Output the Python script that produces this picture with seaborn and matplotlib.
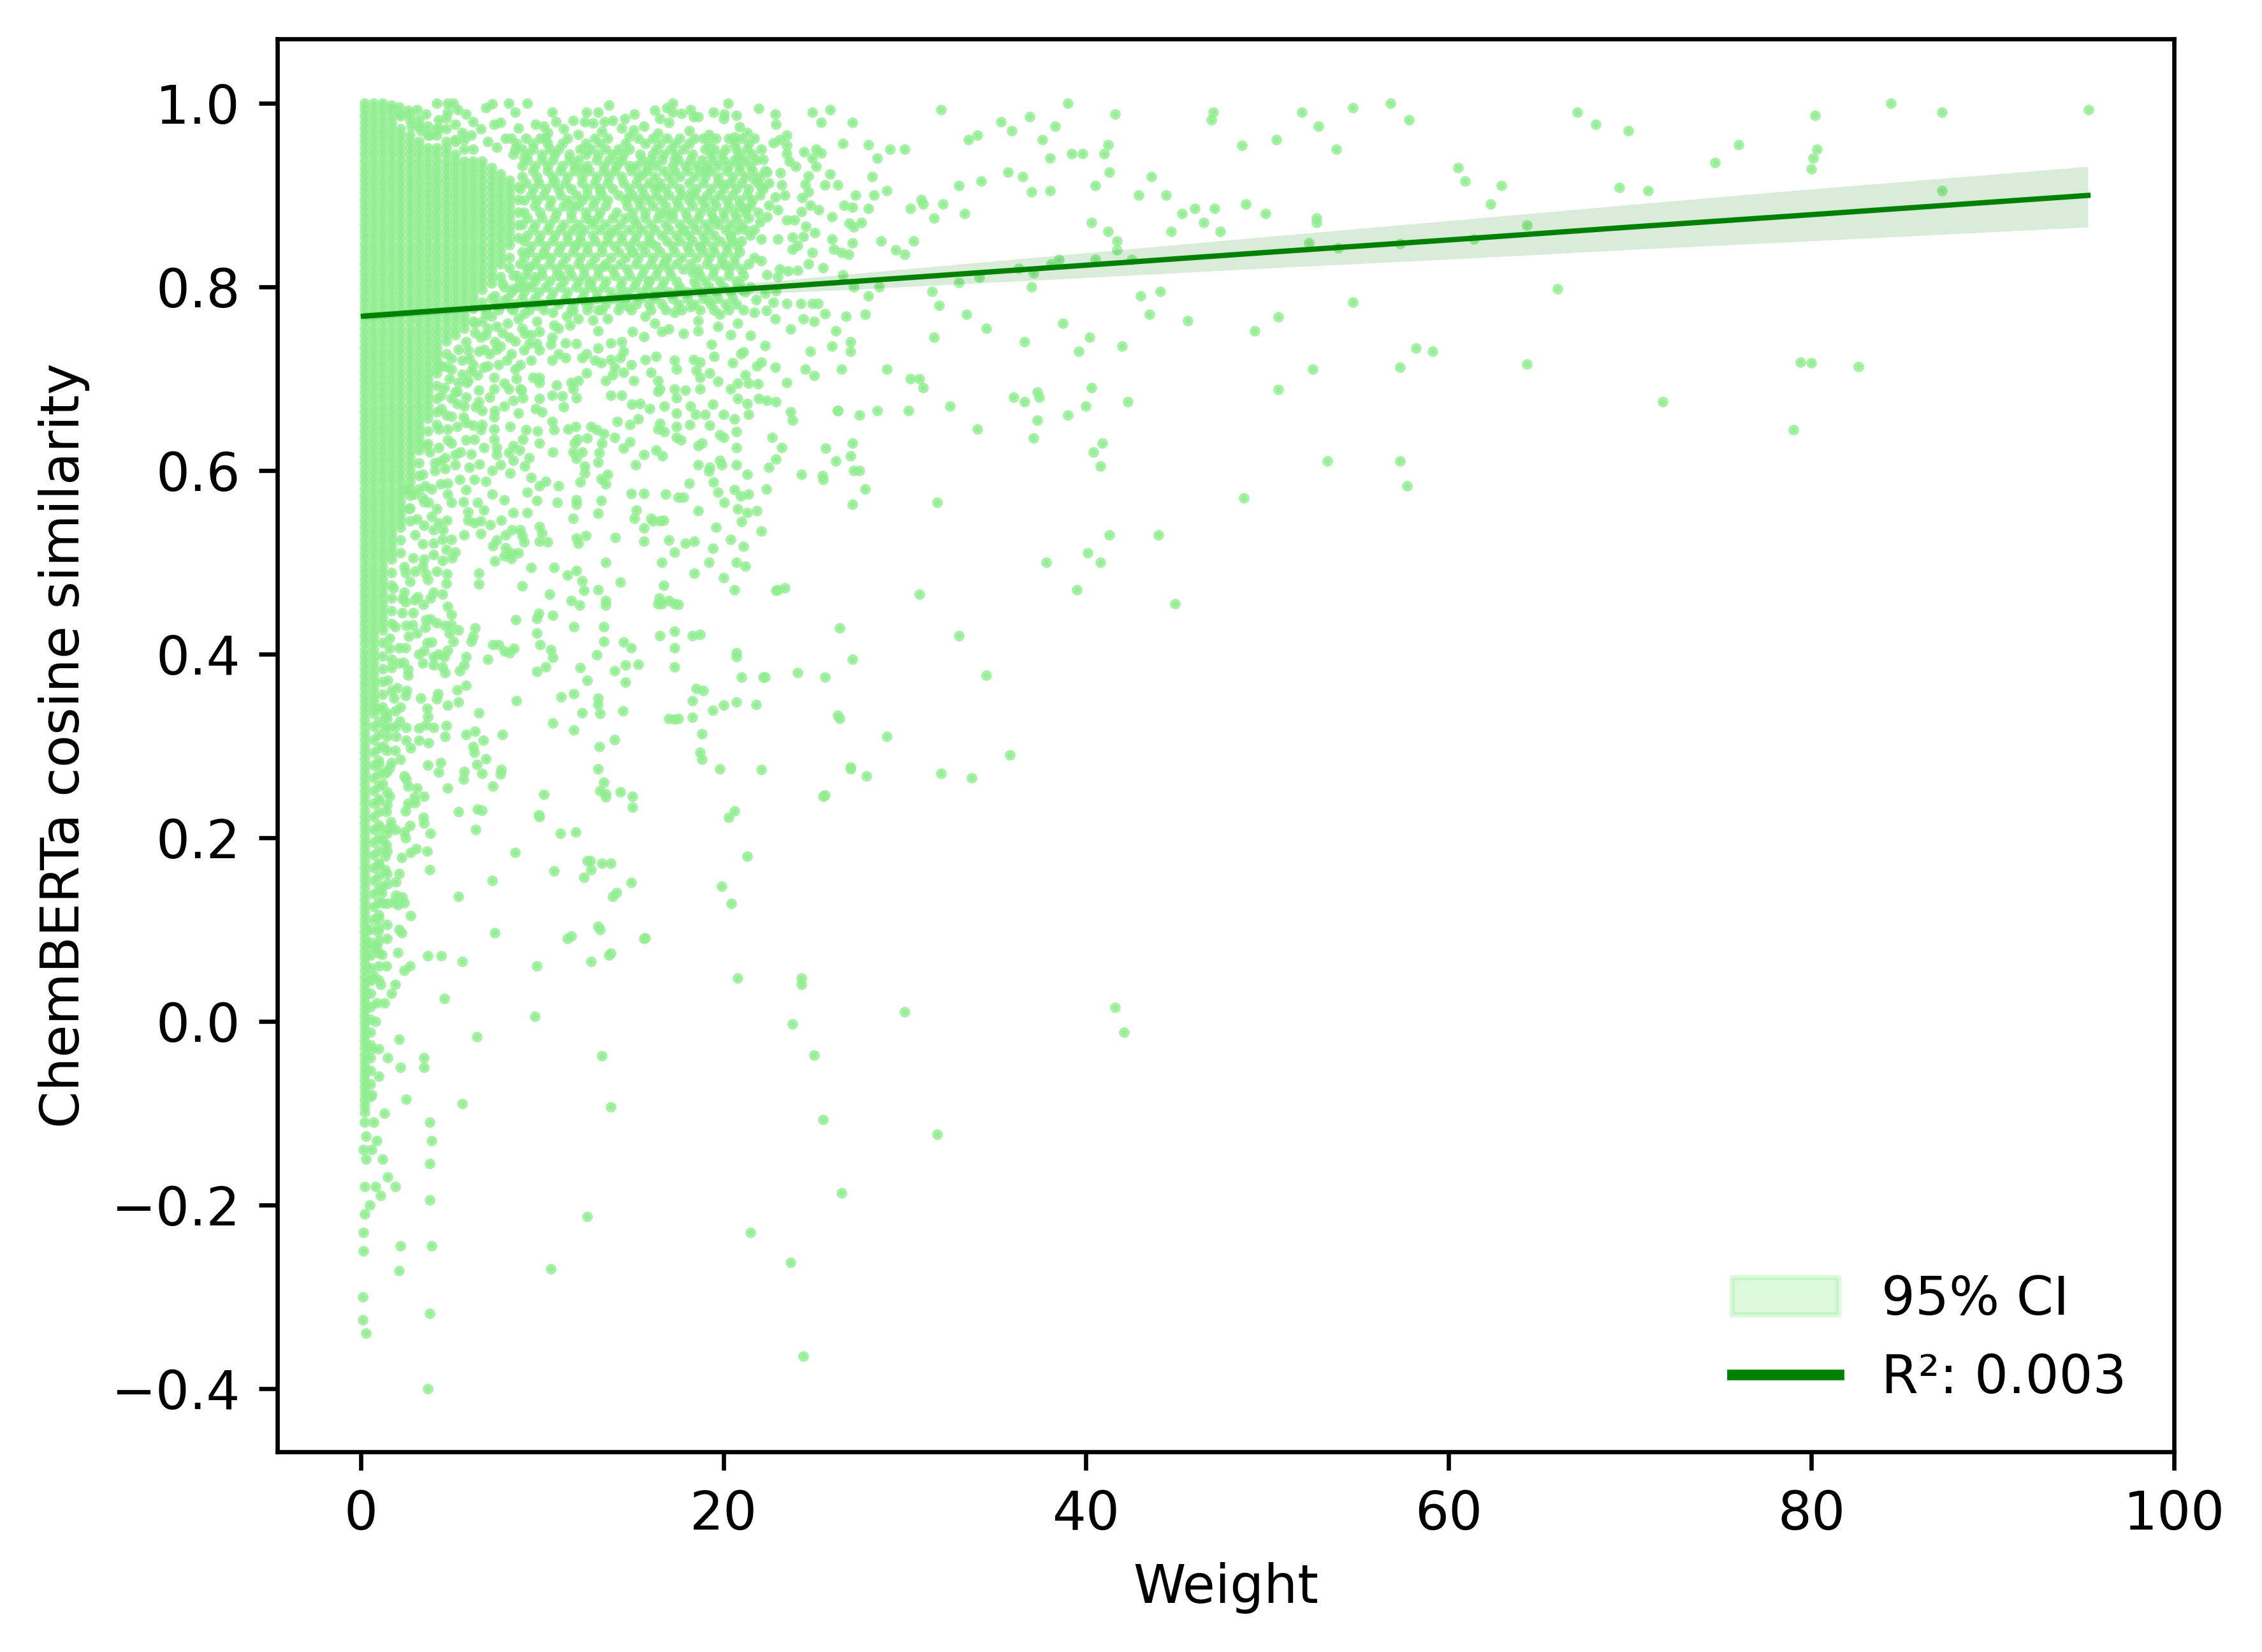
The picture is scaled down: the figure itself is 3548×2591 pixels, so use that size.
import numpy as np
import pandas as pd
import matplotlib
matplotlib.use("Agg")
import matplotlib.pyplot as plt
import seaborn as sns
from matplotlib.lines import Line2D
from matplotlib.patches import Patch

# fit line and CI band
fit_x = [0.15, 10, 20, 27, 40, 50, 60, 70, 78.5, 95.25]
fit_y = [.768, .782, .796, .8055, .8235, .8375, .851, .865, .8765, .8995]
ci_hi = [.772, .786, .801, .814, .837, .8547, .872, .8895, .904, .931]
ci_lo = [.764, .778, .791, .797, .810, .8203, .830, .8405, .8485, .865]

# saturated area near x=0, one y list per x column (single points can't be read here)
col_02 = [1.0,.986,.972,.958,.944,.93,.916,.902,.888,.874,.86,.846,.832,.818,.804,.79,.776,.762,.748,.734,.72,.706,.692,.678,.664,.65,.636,.622,.608,.594,.58,.566,.552,.538,.524,.51,.496,.482,.468,.454,.44,.426,.412,.398,.384,.37,.356,.342,.328,.314,.3,.286,.272,.258,.244,.23,.216,.202,.188,.174,.16,.146,.132,.118,.104,.09,.076,.062,.048,.034,.02,.006,-.008,-.022,-.036,-.05,-.064,-.078,-.092]
col_02_low = [.097,.083,.069,.055,.041,.027,.013,-.001,-.015,-.029,-.043,-.057,-.071,-.085,-.099]
col_07 = [.993,.979,.965,.951,.937,.923,.909,.895,.881,.867,.853,.839,.825,.811,.797,.783,.769,.755,.741,.727,.713,.699,.685,.671,.657,.643,.629,.615,.601,.587,.573,.559,.545,.531,.517,.503,.489,.475,.461,.447,.433,.419,.405,.391,.377,.363,.349,.335,.321,.307,.293,.279,.265,.251,.237,.223,.209,.195,.181,.167,.153,.139,.125,.111]
col_12 = [1.0,.986,.972,.958,.944,.93,.916,.902,.888,.874,.86,.846,.832,.818,.804,.79,.776,.762,.748,.734,.72,.706,.692,.678,.664,.65,.636,.622,.608,.594,.58,.566,.552,.538,.524,.51,.496,.482,.468,.454,.44,.426,.412,.398,.384,.37,.356,.342]
col_17 = [.993,.979,.965,.951,.937,.923,.909,.895,.881,.867,.853,.839,.825,.811,.797,.783,.769,.755,.741,.727,.713,.699,.685,.671,.657,.643,.629,.615,.601,.587,.573,.559,.545,.531,.517,.503,.489,.475,.461,.447,.433]
col_22 = [.986,.972,.958,.944,.93,.916,.902,.888,.874,.86,.846,.832,.818,.804,.79,.776,.762,.748,.734,.72,.706,.692,.678,.664,.65,.636,.622,.608,.594,.58,.566,.552,.538,.524,.51]
col_27 = [.988,.965,.951,.937,.923,.909,.895,.881,.867,.853,.839,.825,.811,.797,.783,.769,.755,.741,.727,.713,.699,.685,.671,.657,.643,.629,.615,.601,.587,.573,.559,.545]
col_32 = [.982,.958,.944,.93,.916,.902,.888,.874,.86,.846,.832,.818,.804,.79,.776,.762,.748,.734,.72,.706,.692,.678,.664,.65,.636,.622,.608,.594,.58]
col_37 = [.975,.951,.937,.923,.909,.895,.881,.867,.853,.839,.825,.811,.797,.783,.769,.755,.741,.727,.713,.699,.685,.671,.657,.643,.629]
col_42 = [.965,.944,.93,.916,.902,.888,.874,.86,.846,.832,.818,.804,.79,.776,.762,.748,.734,.72,.706,.692,.678,.664]
col_47 = [.972,.951,.937,.923,.909,.895,.881,.867,.853,.839,.825,.811,.797,.783,.769,.755,.741,.727,.713]
col_52 = [.958,.944,.93,.916,.902,.888,.874,.86,.846,.832,.818,.804,.79,.776,.762,.748]
col_57 = [.96,.937,.923,.909,.895,.881,.867,.853,.839,.825,.811,.797,.783,.769,.755]
col_62 = [.95,.93,.916,.902,.888,.874,.86,.846,.832,.818,.804,.79,.776,.762]
col_67 = [.937,.923,.909,.895,.881,.867,.853,.839,.825,.811,.797,.783]
col_72 = [.93,.916,.902,.888,.874,.86,.846,.832,.818,.804]
col_77 = [.923,.909,.895,.881,.867,.853,.839,.825,.811]
col_82 = [.916,.902,.888,.874,.86,.846,.832]
col_87 = [.909,.895,.881,.867,.853]
col_xs = [.2, .7, 1.2, 1.7, 2.2, 2.7, 3.2, 3.7, 4.2, 4.7, 5.2, 5.7, 6.2, 6.7, 7.2, 7.7, 8.2, 8.7]
col_ys = [col_02 + col_02_low, col_07, col_12, col_17, col_22, col_27, col_32, col_37, col_42, col_47, col_52, col_57, col_62, col_67, col_72, col_77, col_82, col_87]

# thicker foot of the column below y=0.35
foot_055 = [.1,.086,.072,.058,.044,.03,.016,.002,-.012,-.026,-.04,-.054,-.068,-.082]
foot_100 = [.34,.326,.312,.298,.284,.27,.256,.242,.228,.214,.2,.186,.172,.158,.144,.13,.116,.102,.088,.074,.06,.045]
foot_145 = [.33,.31,.295,.272,.25,.236,.205,.185,.16,.128,.105,.09]

# busy band x 8-22, one x list per y level
row_ys = [.962, .95, .938, .926, .913, .9, .888, .875, .862, .85, .838, .825, .812, .8, .787, .775]
row_xs = [
    [8.3,9.1,9.9,10.2,11.4,12.9,13.6,15.3,16.1,16.9,17.6,18.4,18.9,19.6,20.3,21,21.7],
    [8.9,9.5,10.4,10.9,12.1,12.7,13.5,14.2,14.8,16.3,17.1,17.8,19,19.5,20.1,20.7,21.3,22.1],
    [9.2,10,10.6,11.5,12,13,13.7,14.4,15.5,16,16.6,17.5,18.2,18.8,19.4,20,20.6,21.2,21.8],
    [9.5,10.3,11,11.8,12.6,13.4,14,14.9,15.8,16.7,17.3,18,18.7,19.3,20.2,20.9,21.6,22.3],
    [9.1,9.8,10.6,11.3,12.2,12.9,13.6,14.5,15.2,15.9,16.5,17.2,18.1,18.9,19.7,20.4,21,21.9],
    [9.4,10.1,11,11.9,12.5,13.3,14.2,15,15.6,16.3,17,17.7,18.4,19.1,19.8,20.5,21.3,22],
    [9.6,10.4,11.2,12,12.8,13.5,14.7,15.4,16.1,16.8,17.5,18.3,19,19.6,20.3,20.9,21.5],
    [9.2,10,10.7,11.6,12.4,13.1,13.9,14.6,15.7,16.4,17.2,18,18.6,19.4,20,20.7,21.4],
    [9.5,10.3,11,11.7,12.3,13.2,14,14.8,15.5,16.2,17,17.8,18.5,19.2,20.1,20.8,21.2],
    [9,9.8,10.6,11.4,12.1,12.9,13.6,14.4,15.1,15.9,16.9,17.6,18.3,19,19.8,20.5,21],
    [9.3,10.1,10.9,11.7,12.5,13.3,14.2,15,15.7,16.5,17.3,18.1,18.9,19.5,20.2,20.9],
    [8.8,9.6,10.4,11.1,12,12.7,13.5,14.3,15.2,16,16.7,17.4,18.2,19.1,19.9,20.6,21.4],
    [8.4,9.1,10,10.8,11.6,12.3,13.1,14,14.8,15.5,16.3,17.1,18.7,19.4,20.3,21.1],
    [7.9,8.7,9.4,10.2,11,11.9,12.7,13.4,14.3,15.1,15.8,16.6,17.6,18.5,19.2,20,20.8,21.5],
    [7.2,8.1,8.9,9.6,10.5,11.3,12.2,13,13.9,14.6,15.4,16.2,17.2,18,18.9,19.7,20.5],
    [6.9,7.6,8.4,9.3,10.1,11.6,12.5,13.3,14.2,14.9,16,16.8,17.7,18.7,19.5,20.3,21.1],
]
# second pass between those levels, the band is nearly solid up to x=14
row2_ys = [.956, .944, .932, .92, .907, .894, .881, .868, .856, .844, .832, .819, .806, .794, .781]
row2_xs = [
    [8.6,9.5,10.3,11.1,12.4,13.2,14.6,15.7,16.5,17.3,18.1,19.2,20.6,21.4],
    [8.4,9.2,10,10.7,11.5,12.4,13.1,13.9,14.5,15.4,16.1,16.7,17.4,18.3,19.3,19.9,20.9,21.6],
    [8.9,9.6,10.3,11.1,11.8,12.5,13.4,14.1,14.8,15.2,15.8,16.3,17.2,17.9,18.5,19.1,19.7,20.3,20.9,21.5],
    [8.9,9.7,10.6,11.4,12.2,13,13.7,14.4,15.3,16.2,17,17.6,18.4,19,19.7,20.5,21.2,22],
    [8.8,9.5,10.2,10.9,11.6,12.5,13.2,13.9,14.8,15.5,16.2,16.8,17.6,18.5,19.3,20,20.7,21.4,22.2],
    [9,9.7,10.5,11.4,12.2,12.9,13.6,14.6,15.3,15.9,16.6,17.4,18.1,18.8,19.5,20.2,20.9,21.6],
    [9,9.9,10.8,11.6,12.4,13.2,14.1,15,15.7,16.5,17.2,17.9,18.7,19.3,20,20.6,21.2,21.9],
    [8.9,9.6,10.4,11.2,12,12.8,13.5,14.3,15.2,16,16.8,17.6,18.3,19,19.7,20.4,21],
    [9.2,9.9,10.7,11.4,12.1,12.8,13.6,14.4,15.2,15.9,16.6,17.4,18.1,18.9,19.5,20.4,21.5],
    [9.4,10.2,11,11.8,12.5,13.3,14,14.8,15.5,16.3,17.2,18,18.7,19.4,20.2,20.8],
    [9,9.7,10.5,11.3,12.1,12.9,13.8,14.6,15.3,16.1,16.9,17.7,18.5,19.2,19.9,20.6],
    [9.2,10,10.8,11.5,12.3,13.1,13.9,14.7,15.6,16.4,17,17.8,18.6,19.5,20.3,21],
    [8.8,9.6,10.4,11.2,12,12.7,13.5,14.4,15.2,15.9,16.7,17.4,18.4,19,19.8,20.7],
    [8.3,9,9.8,10.6,11.4,12.3,13,13.8,14.7,15.5,16.2,17,18,18.8,19.6,20.4,21.2],
    [7.5,8.5,9.3,10,10.9,11.7,12.6,13.5,14.3,15.2,15.9,16.6,17.5,18.4,19.3,20.1],
]

# loose fill that breaks up the rows above
band_fill = [(10.3,.968),(11.2,.972),(12,.966),(13.3,.969),(14.8,.964),(16.4,.967),(18.1,.97),(19.2,.966),(20.6,.963),(21.3,.968),(22.2,.939),(22.4,.925),(22.1,.908),(22.5,.889),(22,.871),(21.7,.862),
    (10.7,.915),(11.7,.889),(12.2,.928),(12.7,.872),(13.2,.904),(13.8,.858),(14.2,.936),(14.7,.897),(15.1,.873),(15.5,.922),(16,.848),(16.4,.909),(16.9,.879),(17.3,.939),(17.8,.861),(18.2,.902),
    (18.7,.843),(19,.928),(19.5,.872),(20,.912),(20.4,.855),(20.8,.941),(21.2,.885),(21.7,.917),(10.1,.835),(11,.812),(11.9,.846),(12.6,.803),(13.4,.822),(14.3,.791),(15,.838),(15.9,.806),(16.8,.829),
    (17.5,.797),(18.3,.816),(19.2,.785),(20.1,.824),(20.9,.803),(21.7,.832),(9.7,.78),(10.6,.772),(12.4,.782),(13.1,.775),(14.7,.779),(15.7,.768),(17.3,.772),(18.2,.778),(19.8,.77),(20.7,.781)]

# x 3-10 under the fit line and along the top edge
left_fill = [(8.9,.838),(9.3,.822),(9.6,.811),(9.1,.801),(8.6,.812),(8.2,.821),(8.4,.798),(7.8,.803),(7.4,.79),(7.9,.785),(8.3,.776),(9,.771),(9.7,.762),(7.2,.768),(6.7,.762),(6.3,.75),(5.8,.74),(6.9,.748),
    (7.5,.757),(8.2,.745),(8.9,.755),(9.3,.738),(7.7,.735),(7.1,.727),(6.5,.73),(6,.722),(5.4,.732),(5,.722),(5.6,.705),(6.1,.708),(6.8,.712),(7.6,.715),(8.3,.727),(8.8,.715),(9.4,.72),(4.9,.7),(4.6,.69),(5.2,.685),
    (5.8,.68),(6.5,.675),(7.1,.68),(7.9,.695),(8.6,.7),(4.2,.65),(4.7,.66),(5.3,.648),(5.8,.652),(6.7,.65),(3.8,.62),(4.4,.61),(5,.63),(5.5,.62),(6.1,.618),(3.4,.57),(3.9,.58),(4.4,.585),(3,.53),(3.5,.54),(3.9,.55),
    (2.4,.495),(2.9,.505),(3.4,.52),(1.9,.43),(2.3,.46),(2.1,.39),(1.7,.36),(2.8,.975),(3.3,.97),(3.8,.965),(4.3,.972),(4.7,.984),(5.2,.977),(5.6,.968),(6.1,.965),(6.6,.972),(7,.958),(7.5,.952),(8,.962),(8.5,.95),(9,.94),
    (1.7,.998),(2.1,.996),(2.6,.992),(3.1,.993),(3.6,.988)]

top_edge = [(4.2,1.0),(4.8,1.0),(5.1,1.0),(6.9,.995),(7.25,.999),(8.15,1.0),(9.2,1.0),(8.5,.99),(10.55,.99),(10.75,.98),(11.7,.981),(12.45,.99),
    (13.1,.99),(13.7,.998),(15.1,.988),(16.2,.992),(17.2,1.0),(16.9,.995),(17.2,.99),(17.7,.989),(18.2,.993),(18.35,.985),(18.6,.985),(19.45,.99),
    (20.25,1.0),(20.05,.988),(20,.983),(20.7,.987),(20.9,.974),(16.5,.983),(17,.979),(13.45,.98),(13.9,.981),(14.55,.983),(14.4,.973),(15.6,.975),
    (15.05,.971),(12.35,.98),(12.8,.978),(9.65,.977),(10.1,.975),(8.7,.973),(7.7,.979),(7.35,.977),(6.2,.98),(5.8,.988),(5.35,.993),(4.8,.99),(4.3,.982)]

right_of_band = [(21.95,.994),(22.85,.988),(22.9,.977),(24.9,.99),(25.9,.993),(25.4,.979),(27.1,.979),(23.5,.965),(22.75,.957),(23.1,.96),(23.5,.954),
    (26.6,.956),(24.45,.947),(25.1,.95),(25.4,.946),(23.5,.945),(23.65,.937),(24,.931),(24.9,.94),(25.1,.931),(24.7,.921),(23.15,.924),(25.9,.923),
    (26.3,.911),(25.6,.911),(24.5,.912),(23.2,.911),(22.5,.913),(23.4,.9),(22.85,.898),(24.7,.903),(24.35,.897),(24.8,.889),(25.25,.884),(26.65,.889),
    (27.1,.887),(26,.876),(24.3,.882),(23,.884),(22.4,.876),(23.5,.873),(23.9,.873),(24.55,.866),(25.05,.859),(26.95,.869),(23.8,.854),(24.4,.855),
    (23,.852),(22.1,.852),(26,.852),(27.1,.848),(24.1,.845),(23.8,.841),(26.1,.841),(26.5,.837),(26.9,.835),(24.9,.837),(22.1,.828),(24.7,.825),
    (25.5,.821),(23.55,.817),(24.1,.818),(23.1,.819),(22.4,.813),(23,.811),(26.6,.813),(21.8,.786),(22.3,.793),(22.9,.796),(21.1,.796),
    (27.3,.9),(28,.885),(28.3,.9),(27.6,.87),(27.2,.865),(28.7,.85),(29.5,.84),(30,.835),(30.5,.85),(28.2,.92),(29.2,.95),(30,.95),(28,.955),(28.5,.94),
    (29,.905),(30.3,.885),(31,.89),(28.6,.8),(28,.79),(27.2,.8),(27.8,.77),(29,.71),(28.5,.665),(26.5,.71),(26.3,.665),(27.5,.66),(27.8,.58),(27.5,.6),
    (26.2,.61),(25.5,.59),(27.2,.6),(27.1,.63),(27,.73)]

below_line = [(12.8,.764),(13.6,.765),(11.7,.774),(11.35,.768),(12,.765),(10.65,.758),(10.9,.755),(11.55,.758),(9.85,.751),(9.05,.749),(9.4,.748),(13.1,.752),
    (10.55,.745),(9.7,.738),(10.5,.737),(11.3,.739),(11.9,.738),(9.85,.731),(9,.731),(8.5,.741),(13.1,.733),(13.8,.739),(14.5,.73),(14.4,.74),(15,.751),
    (15.6,.746),(16.2,.76),(17,.754),(16.6,.751),(17.8,.749),(18.6,.752),(18.6,.763),(19.7,.757),(20.8,.76),(20.4,.748),(21.5,.747),(21.1,.729),(22.3,.736),
    (24.8,.73),(26,.735),(23.7,.754),(24.4,.765),(25,.762),(26.2,.752),(26.75,.768),(25.6,.771),(23.5,.782),(24.25,.782),(24.9,.782),(25.2,.782),(22.85,.765),
    (21.7,.772),(22.35,.774),(22.75,.783),(27,.74),(10.9,.727),(11.3,.723),(10.55,.72),(12.2,.723),(12.45,.727),(12.9,.72),(13.25,.717),(13.8,.721),(14.3,.723),
    (14.9,.715),(15.7,.721),(16.3,.724),(17.3,.72),(17.4,.71),(18.35,.721),(18.7,.718),(19.5,.724),(19.35,.737),(20.5,.717),(20.95,.727),(21.85,.714),(22.1,.718),
    (22.85,.712),(24.5,.71),(25,.703),(21.2,.704),(21.9,.694),(21.4,.695),(20.8,.695),(20.4,.689),(23.5,.696),(19.7,.697),(19.25,.706),(18.7,.701),(18.5,.709),
    (18.7,.689),(17.9,.687),(17.3,.689),(17.4,.679),(16.4,.698),(16,.707),(16.5,.689),(15.05,.698),(14.5,.707),(14,.712),(13.9,.704),(13.5,.698),(13.8,.682),
    (14.4,.682),(12,.698),(12.45,.706),(11.6,.696),(11.7,.689),(10.8,.693),(10.55,.682),(11.1,.681),(9.85,.701),(9.5,.701),(9.85,.696),(8.5,.71),(8.05,.72),
    (7.35,.701),(7.35,.689),(6.5,.687),(7,.714),(6.45,.704),(5.9,.698),(5.4,.696),(5,.71),(4.45,.714),(5.9,.731),(6.8,.732),(7.5,.732),(8.15,.689),(8.85,.687),
    (8.95,.679),(9.85,.678),(11.2,.669),(9.65,.667),(10,.664),(11.9,.679),(14.95,.672),(15.4,.673),(15.95,.667),(16.75,.67),(16.4,.686),(17.4,.662),(18.2,.67),
    (18.45,.661),(19,.661),(19.4,.672),(20,.661),(20.6,.656),(20.8,.678),(21.3,.673),(21.4,.661),(21.95,.678),(22.4,.676),(22.9,.675),(23.7,.664),(23.8,.655),
    (26.3,.665),(6.3,.76),(7,.755),(7.8,.75),(6.6,.745),(7.4,.74),(8.1,.76),(8.7,.765),(6.9,.77),(5.6,.72),(6.2,.715)]

mid_block = [(14.15,.653),(14.85,.65),(15.3,.656),(16.5,.651),(16.4,.645),(16.75,.642),(17.4,.648),(17.4,.636),(17.65,.633),(18.15,.65),(19.25,.649),(19.8,.639),
    (20,.636),(20.7,.642),(20.7,.625),(18.6,.627),(18.8,.63),(22.7,.636),(23.2,.625),(25.65,.624),(27,.616),(22.9,.612),(22.5,.603),(24.3,.596),(25.45,.594),
    (19.8,.611),(19.9,.606),(20.7,.606),(18.6,.606),(19.25,.603),(19.2,.599),(21.3,.596),(10.55,.653),(10.65,.644),(11.45,.645),(11.85,.648),(12.7,.648),(13,.644),
    (13.4,.64),(12.5,.635),(11.95,.634),(11.8,.63),(14,.636),(14.85,.631),(14.5,.624),(13.3,.63),(13.15,.619),(11.7,.62),(12.2,.62),(10.6,.62),(9.85,.63),(9.75,.643),
    (9.1,.644),(8.95,.634),(8.4,.627),(8.75,.622),(8.15,.619),(8.4,.611),(9.3,.614),(9.05,.605),(7.5,.625),(6.8,.625),(7.5,.617),(15.6,.617),(16.3,.622),(16.65,.616),
    (15.15,.606),(11.9,.613),(12.35,.605),(12.35,.597),(13.1,.609),(7.7,.606),(7.25,.6),(8.25,.597),(6.55,.607),(6,.603),(13.6,.596),(13.25,.591),(13.5,.585),(12.1,.587),
    (10.9,.583),(10.2,.588),(9.85,.583),(9.4,.592),(9.2,.576),(9.7,.567),(10.85,.565),(11.9,.568),(11.9,.563),(13.25,.567),(14.9,.575),(15.6,.575),(16.8,.574),(17.5,.571),
    (17.8,.571),(18.1,.586),(19.45,.587),(19.7,.576),(20.6,.579),(20.95,.572),(21.4,.574),(22.35,.58),(21.3,.554),(21.85,.556),(20.05,.565),(20.8,.558),(18.6,.556),(27.1,.563),
    (15.2,.557),(9.2,.554),(8.4,.554),(6.8,.557),(6.25,.59),(6.9,.588),(7.25,.574),(7.9,.568),(6.45,.565),(5.65,.566),(5.9,.555),(5.45,.59),(5.8,.579),(4.8,.586),(4.2,.558),
    (3.75,.565),(3.5,.566),(3.55,.583),(4.8,.574),(5,.565),(4.65,.602),(5.2,.606),(5.2,.617),(4.65,.614),(4.3,.625),(4.1,.608),(4.1,.6),(3.6,.627),(3.4,.596),(2.95,.574),
    (2.65,.558),(3.1,.547),(2.5,.58),(5.3,.686),(5.3,.673),(5.85,.696),(5.7,.67),(5.65,.658),(5,.659),(5,.678),(4.45,.682),(4.45,.667),(6.35,.669),(6.7,.665),(6.2,.649),
    (6.6,.644),(7.4,.665),(7.35,.658),(8.25,.648),(8.7,.662),(7.9,.67),(8.4,.676),(8.8,.689),(7.35,.645),(7.35,.634),(4.8,.645),(4.8,.633),(4.3,.645),(5.8,.633),(6.25,.634)]

low_block = [(11.7,.548),(13.1,.553),(15.1,.548),(16,.548),(16.5,.545),(16.7,.546),(19.6,.538),(21,.544),(22.1,.534),(14.05,.527),(15.6,.537),(15.6,.523),(17,.524),(17.9,.521),
    (18.4,.523),(17.3,.511),(19.4,.515),(20.4,.525),(21.1,.517),(19.2,.5),(20.7,.5),(21.2,.496),(16.6,.5),(18.4,.488),(20,.483),(20.6,.47),(22.9,.469),(23.4,.472),(13.5,.5),
    (14.3,.478),(16.7,.475),(13.1,.47),(12.3,.469),(12.2,.48),(11.9,.491),(11.4,.486),(10.65,.494),(9.4,.494),(8.9,.474),(10.4,.465),(11.6,.458),(12.05,.453),(13.5,.458),
    (13.5,.453),(16.45,.461),(16.4,.455),(17,.458),(17.5,.454),(8.55,.437),(9.8,.444),(9.7,.439),(10.6,.442),(11.75,.43),(13.4,.43),(9.7,.423),(17.3,.425),(18.7,.421),(26.4,.428),
    (13.4,.414),(14.5,.413),(14.9,.407),(17.3,.407),(9.9,.41),(10.5,.405),(10.6,.396),(13,.399),(20.7,.401),(20.7,.397),(27.1,.394),(15.3,.389),(14.6,.388),(14,.382),(12.1,.385),
    (10.2,.386),(9.7,.381),(17.3,.386),(21,.375),(22.3,.375),(24.1,.38),(25.6,.375),(12.5,.371),(14.6,.369),(18.5,.362),(11.75,.357),(11.05,.353),(13.1,.352),(13.1,.345),(8.6,.349),
    (18.3,.349),(20.7,.348),(20,.344),(19.4,.339),(12.2,.336),(13.2,.335),(14.45,.338),(17.3,.329),(18.3,.331),(26.3,.333),(10.6,.325),(11.75,.317),(18.8,.313),(14,.307),(13.15,.299),
    (18.7,.293),(18.8,.285),(13.1,.275),(19.8,.275),(22.1,.274),(27,.277),(13.4,.26),(13.2,.251),(13.5,.248),(13.5,.244),(14.3,.25),(15,.245),(15,.233),(25.6,.246),(20.6,.229),(20.3,.222),
    (10.1,.247),(9.85,.223),(11.85,.206),(8.5,.184),(21.3,.18),(12.65,.175),(13.8,.172),(10.65,.164),(12.3,.157),(14.9,.151),(19.9,.147),(13.9,.136),(20.45,.128),(7.25,.153),(5.4,.136),
    (7.4,.096),(11.6,.093),(13.1,.103),(15.7,.091),(13.8,.074)]

low_left = [(7.3,.518),(7.5,.524),(8,.53),(8.35,.535),(8.8,.535),(8.9,.529),(9,.522),(9.85,.539),(10,.532),(9.85,.523),(10.3,.522),(11.9,.526),(12,.521),(12.4,.529),(8,.516),(7.9,.507),
    (8.3,.504),(8.3,.51),(8.7,.51),(7.4,.501),(6.5,.488),(6.5,.476),(7.75,.546),(7.15,.541),(6.6,.545),(6.6,.531),(6.25,.543),(5.9,.546),(5.7,.53),(5,.525),(4.5,.525),(4,.521),(4,.535),
    (4.3,.543),(4.75,.546),(4.55,.535),(5.2,.511),(4.7,.514),(5.05,.505),(4.5,.502),(4,.508),(3.5,.503),(3.4,.496),(3,.49),(2.45,.489),(4.2,.49),(4.75,.487),(3.6,.487),(3.7,.481),(2.7,.479),
    (4.7,.477),(1.8,.472),(2.4,.467),(4.5,.465),(4,.467),(3.85,.461),(3.15,.462),(2.95,.459),(3.45,.454),(2.45,.457),(4.8,.452),(5,.443),(2.9,.445),(2.3,.445),(3.85,.438),(4.2,.434),(3.6,.437),
    (2.85,.432),(2.5,.431),(3.55,.429),(3.1,.423),(2.65,.419),(4.65,.431),(5,.432),(5.4,.426),(4.9,.423),(5.1,.414),(6.3,.428),(6.2,.419),(6.1,.414),(7.3,.41),(7.6,.41),(7.9,.403),(8.2,.401),
    (8.45,.406),(7,.394),(5.8,.397),(5.7,.388),(5.45,.382),(4.65,.38),(4.5,.386),(4,.388),(3.4,.39),(3.2,.4),(3.5,.403),(4,.397),(4.3,.4),(4.6,.397),(4.8,.404),(3.9,.413),(3.65,.412),(2.45,.407),
    (2.1,.407),(1.6,.406),(1.6,.417),(2.35,.391),(2.6,.383),(2.6,.377),(1.7,.394),(1.7,.385),(1.5,.371),(2,.363),(2.55,.36),(2.45,.355),(1.85,.352),(3.3,.352),(4.25,.357),(4.2,.351),(5.3,.361),
    (5.8,.366),(5.4,.348),(4.8,.344),(3.65,.341),(2.2,.342),(1.9,.338),(1.4,.336),(1.35,.332),(3.7,.332),(2.15,.327),(6.5,.336),(4.7,.322),(4.65,.31),(5.8,.312),(6.3,.316),(6.75,.306),(7.8,.312),
    (1.6,.32),(1.95,.321),(2.5,.32),(3.2,.319),(3.6,.323),(4,.32),(1.95,.31),(2.5,.306),(3.2,.306),(3.75,.303),(2.75,.298),(6.2,.299),(6.25,.293),(6.9,.286),(6.4,.28),(2.2,.285),(1.7,.282),(1.6,.276),
    (1.9,.295),(3.7,.279),(4.4,.282),(4.3,.271),(5.7,.272),(5.65,.264),(6.7,.27),(7.75,.274),(7.7,.269),(7.3,.256),(4.8,.254),(2.4,.267),(2.5,.264),(2.6,.256),(3.1,.254),(3.5,.245),(2.95,.244),(1.6,.245),
    (1.2,.259),(3,.238),(2.6,.237),(2.45,.229),(5.4,.228),(6.45,.231),(6.7,.23),(1.4,.228),(3.45,.222),(3.5,.216),(2.7,.213),(2.4,.206),(2.45,.2),(1.65,.217),(1.6,.211),(1.9,.209),(3.85,.205),(6.35,.209),
    (1.2,.197),(1.4,.192),(3.05,.188),(2.75,.184),(3.65,.185),(2.25,.178),(1.35,.18),(3.8,.165),(2.1,.161),(1.35,.165),(1.95,.152),(1.5,.15),(1.15,.147),(1.15,.14),(1.95,.137),(2.3,.135),(1.8,.13),(2.05,.127),
    (2.4,.129),(1.2,.129),(2.75,.115),(1,.112),(2.1,.1),(2.25,.096),(.95,.098),(.9,.082),(2.05,.075),(3.7,.071),(4.45,.071),(1.15,.073),(1.3,.32),(1.25,.3),(1,.28),(1.3,.27),(1,.24),(1.1,.21),(1,.17)]

bottom_pts = [(.2,-.11),(.3,-.125),(.15,-.14),(.3,-.15),(.2,-.18),(.2,-.21),(.15,-.23),(.15,-.25),(.1,-.3),(.1,-.325),(.3,-.34),(.5,-.2),(.8,-.18),(1.1,-.19),(1.2,-.15),(.9,-.13),(.7,-.11),(1.5,-.17),(1.9,-.18),
    (1.3,-.1),(1,-.06),(1,-.03),(.6,-.03),(1.5,-.04),(2.1,-.02),(.8,0),(1.3,.02),(1.7,.03),(1.9,.04),(1.1,.04),(.7,.05),(1.4,.06),(.7,.08),(.6,-.08),(.6,-.14),(.9,.02),
    (15.6,.09),(13.3,.172),(14.1,.14),(13.2,.1),(13.7,.072),(12.7,.065),(11.4,.09),(12.5,.175),(12.7,.165),(11,.205),(9.8,.225),(9.7,.06),(9.6,.005),(12.5,-.213),(10.5,-.27),(13.3,-.038),(13.8,-.093),
    (5.6,.065),(6.4,-.017),(4.6,.025),(5.6,-.09),(3.5,-.04),(3.5,-.05),(3.8,-.11),(3.9,-.13),(3.8,-.155),(3.8,-.195),(3.9,-.245),(3.8,-.318),(3.7,-.4),(2.2,-.245),(2.1,-.272),(2.5,-.085),(2.2,-.05),(2.4,.055),(2.7,.06)]

far_upper = [(95.3,.993),(87.2,.99),(84.4,1.0),(87.2,.905),(80.2,.987),(80.3,.95),(80.1,.94),(80,.928),(76,.955),(74.7,.935),(71,.905),(69.9,.97),(69.4,.908),(68.1,.977),(67.1,.99),(62.9,.91),(62.3,.89),
    (60.9,.915),(60.5,.93),(61.4,.852),(64.3,.867),(66,.798),(57.8,.982),(56.8,1.0),(54.7,.995),(53.8,.95),(52.8,.975),(51.9,.99),(50.5,.96),(52.7,.87),(52.7,.875),(52.3,.848),(53.9,.842),(54.7,.783),(57.3,.847),
    (49.9,.88),(48.8,.89),(48.6,.954),(47,.99),(46.9,.982),(47.1,.885),(46,.885),(46.5,.87),(47.4,.86),(45.6,.763),(45.3,.88),(44.7,.86),(44.4,.9),(43.6,.92),(42.9,.9),(41.6,.988),(41.2,.955),(41,.945),(40.5,.91),
    (41.3,.925),(39,1.0),(38.3,.975),(37.6,.96),(36.9,.985),(35.9,.97),(35.3,.98),(34,.965),(33.5,.96),(32,.993),(39.2,.945),(39.8,.945),(38,.94),(36.5,.92),(35.7,.925),(34.2,.915),(33,.91),(32.1,.89),(33.3,.88),
    (31.6,.875),(30.9,.895),(37,.903),(38,.905),(40.3,.87),(41.2,.86),(41.7,.84),(42.5,.83),(41.7,.85),(38.5,.83),(38.1,.825),(37,.8),(37.1,.815),(36.3,.82),(34.1,.81),(33,.805),(31.5,.795),(31.9,.78),(43,.79),(43.5,.77),(44.1,.795),(40.5,.83)]

far_lower = [(64.3,.716),(58.2,.733),(59.1,.73),(57.3,.712),(57.3,.61),(57.7,.583),(53.3,.61),(52.5,.71),(50.6,.688),(50.6,.767),(49.3,.752),(48.7,.57),(82.6,.713),(79.4,.718),(80,.717),(79,.644),(71.8,.675),
    (33.4,.77),(34.5,.755),(31.6,.745),(30.3,.7),(30.8,.7),(31,.69),(30.2,.665),(32.5,.67),(34,.645),(36,.68),(36.6,.675),(37.3,.685),(37.4,.68),(37.3,.655),(37.1,.635),(39,.66),(40,.67),(40.3,.69),(40.8,.605),(40.4,.62),
    (40.9,.63),(42,.735),(42.3,.675),(40.2,.745),(38.7,.76),(39.6,.73),(36.6,.74),(31.8,.565),(30.8,.465),(37.8,.5),(40.1,.51),(40.8,.5),(41.3,.53),(44,.53),(44.9,.455),(39.5,.47),(33,.42),(34.5,.377),(32,.27),(33.7,.265),
    (35.8,.29),(41.6,.015),(42.1,-.012),(31.8,-.123),(30,.01),(26.4,.33),(27,.275),(27.9,.267),(29,.31),(25.5,.245),(23,.47),(22.2,.375),(21.8,.345),(24.3,.047),(24.3,.04),(23.8,-.003),(25,-.037),(25.5,-.107),(26.5,-.187),
    (21.5,-.23),(23.7,-.263),(24.4,-.365),(20.8,.047),(18.9,.36),(17,.33),(17.5,.33),(18.3,.42),(16.5,.42),(17.3,.455),(16.6,.455),(16.1,.545)]

tick_x = [0, 20, 40, 60, 80, 100]
tick_y = [-0.4, -0.2, 0.0, 0.2, 0.4, 0.6, 0.8, 1.0]

# put all the points in one table
xs, ys = [], []
# each column also takes the next column's y list so the area closes up
for i, cx in enumerate(col_xs):
    cy = col_ys[i] + (col_ys[i + 1] if i + 1 < len(col_ys) else [])
    xs += [cx] * len(cy)
    ys += cy
for cx, cy in [(.55, foot_055), (1.0, foot_100), (1.45, foot_145)]:
    xs += [cx] * len(cy)
    ys += cy
for level_ys, level_xs in [(row_ys, row_xs), (row2_ys, row2_xs)]:
    for ry, rx in zip(level_ys, level_xs):
        xs += rx
        ys += [ry] * len(rx)
for group in [band_fill, left_fill, top_edge, right_of_band, below_line, mid_block, low_block, low_left, bottom_pts, far_upper, far_lower]:
    xs += [p[0] for p in group]
    ys += [p[1] for p in group]
df = pd.DataFrame({"Weight": xs, "Similarity": ys})

W, H = 3548, 2591
fig = plt.figure(figsize=(W / 600, H / 600), dpi=600)
ax = fig.add_axes([435 / W, 314 / H, 2975 / W, 2216 / H])

sns.scatterplot(data=df, x="Weight", y="Similarity", s=1, color="lightgreen", edgecolor="lightgreen",
                linewidth=1, alpha=0.8, ax=ax, legend=False)
sns.lineplot(x=fit_x, y=fit_y, color="green", linewidth=1, errorbar=None, ax=ax)
ax.fill_between(fit_x, ci_lo, ci_hi, color="green", alpha=0.15, linewidth=0)

ax.set_xlim(-4.6, 100)
ax.set_ylim(-0.469, 1.07)
ax.set_xticks(tick_x)
ax.set_yticks(tick_y)
ax.set_xlabel("Weight")
ax.set_ylabel("ChemBERTa cosine similarity")

handles = [Patch(facecolor="lightgreen", edgecolor="lightgreen", alpha=0.3, label="95% CI"),
           Line2D([0], [0], color="green", linewidth=2, label="R²: 0.003")]
ax.legend(handles=handles, loc="lower right", frameon=False)

fig.savefig("out.png", dpi=600)
